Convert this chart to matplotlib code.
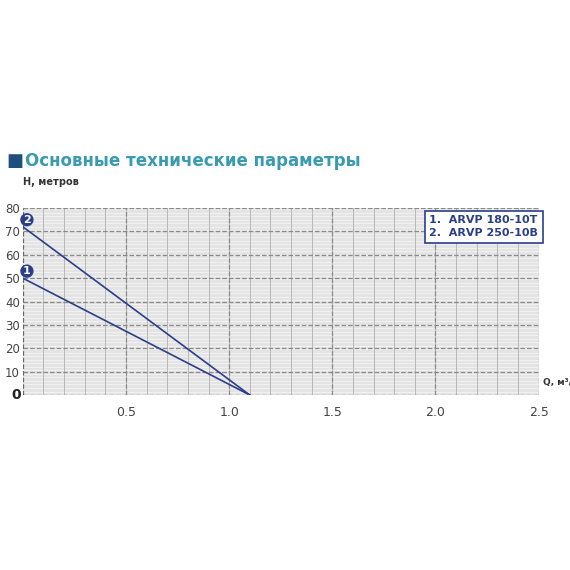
import matplotlib.pyplot as plt
import numpy as np

q_pts = [0.0, 1.1]
h_180 = [50, 0]
h_250 = [72, 0]
models = ['1.  ARVP 180-10T', '2.  ARVP 250-10B']
x_ticks = [0.5, 1.0, 1.5, 2.0, 2.5]
y_ticks = [10, 20, 30, 40, 50, 60, 70, 80]

fig = plt.figure(figsize=(5.7, 5.7), dpi=100)
ax = fig.add_axes([0.04, 0.307, 0.905, 0.328])
ax.set_xlim(0, 2.5)
ax.set_ylim(0, 80)
ax.set_facecolor('#e4e4e4')

for y in np.arange(0, 80, 1.5):
    ax.axhline(y, color='#f4f4f4', lw=0.6, zorder=0)
for x in np.arange(0.1, 2.5, 0.1):
    ax.axvline(x, color='#b8b8b8', lw=0.7, zorder=0.5)
for x in x_ticks:
    ax.axvline(x, color='#8a8a8a', lw=0.9, ls='--', zorder=0.6)
for y in y_ticks:
    ax.axhline(y, color='#8a8a8a', lw=0.9, ls='--', zorder=0.6)

ax.plot(q_pts, h_180, color='#2a3f8a', lw=1.2, zorder=3)
ax.plot(q_pts, h_250, color='#2a3f8a', lw=1.2, zorder=3)

for sp in ax.spines.values():
    sp.set_visible(False)
ax.axvline(0, color='#666', lw=0.9, ls='--', zorder=1)
ax.axhline(0, color='#666', lw=0.9, ls='--', zorder=1)

ax.set_xticks(x_ticks)
ax.set_xticklabels([f'{v}' for v in x_ticks], color='#444', fontsize=9)
ax.set_yticks(y_ticks)
ax.set_yticklabels([str(v) for v in y_ticks], color='#444', fontsize=8.5)
ax.tick_params(length=0, pad=2)
ax.tick_params(axis='x', pad=8)
ax.text(-0.01, 0, '0', transform=ax.transData, ha='right', va='center',
        fontsize=10, fontweight='bold', color='#222')

for yv, lab in [(h_180[0], '1'), (h_250[0], '2')]:
    ax.text(0.02, yv + 3, lab, ha='center', va='center', fontsize=8,
            fontweight='bold', color='white', zorder=5, clip_on=False,
            bbox=dict(boxstyle='circle,pad=0.15', fc='#2a3f8a', ec='none'))

ax.text(1.97, 72, '\n'.join(models), fontsize=8, fontweight='bold',
        color='#2a3f8a', va='center', ha='left', linespacing=1.4, zorder=6,
        bbox=dict(boxstyle='square,pad=0.4', fc='white', ec='#2a3f8a', lw=1.2))

fig.text(0.04, 0.676, 'H, метров', fontsize=7, fontweight='bold', color='#333')
fig.text(0.952, 0.325, 'Q, м³/ч', fontsize=6.5, fontweight='bold', color='#333')
fig.text(0.012, 0.717, '■', fontsize=13, color='#1e4f7d', va='center')
fig.text(0.043, 0.717, 'Основные технические параметры', fontsize=12,
         fontweight='bold', color='#3a9bb0', va='center')

fig.savefig('out.png', dpi=100)
